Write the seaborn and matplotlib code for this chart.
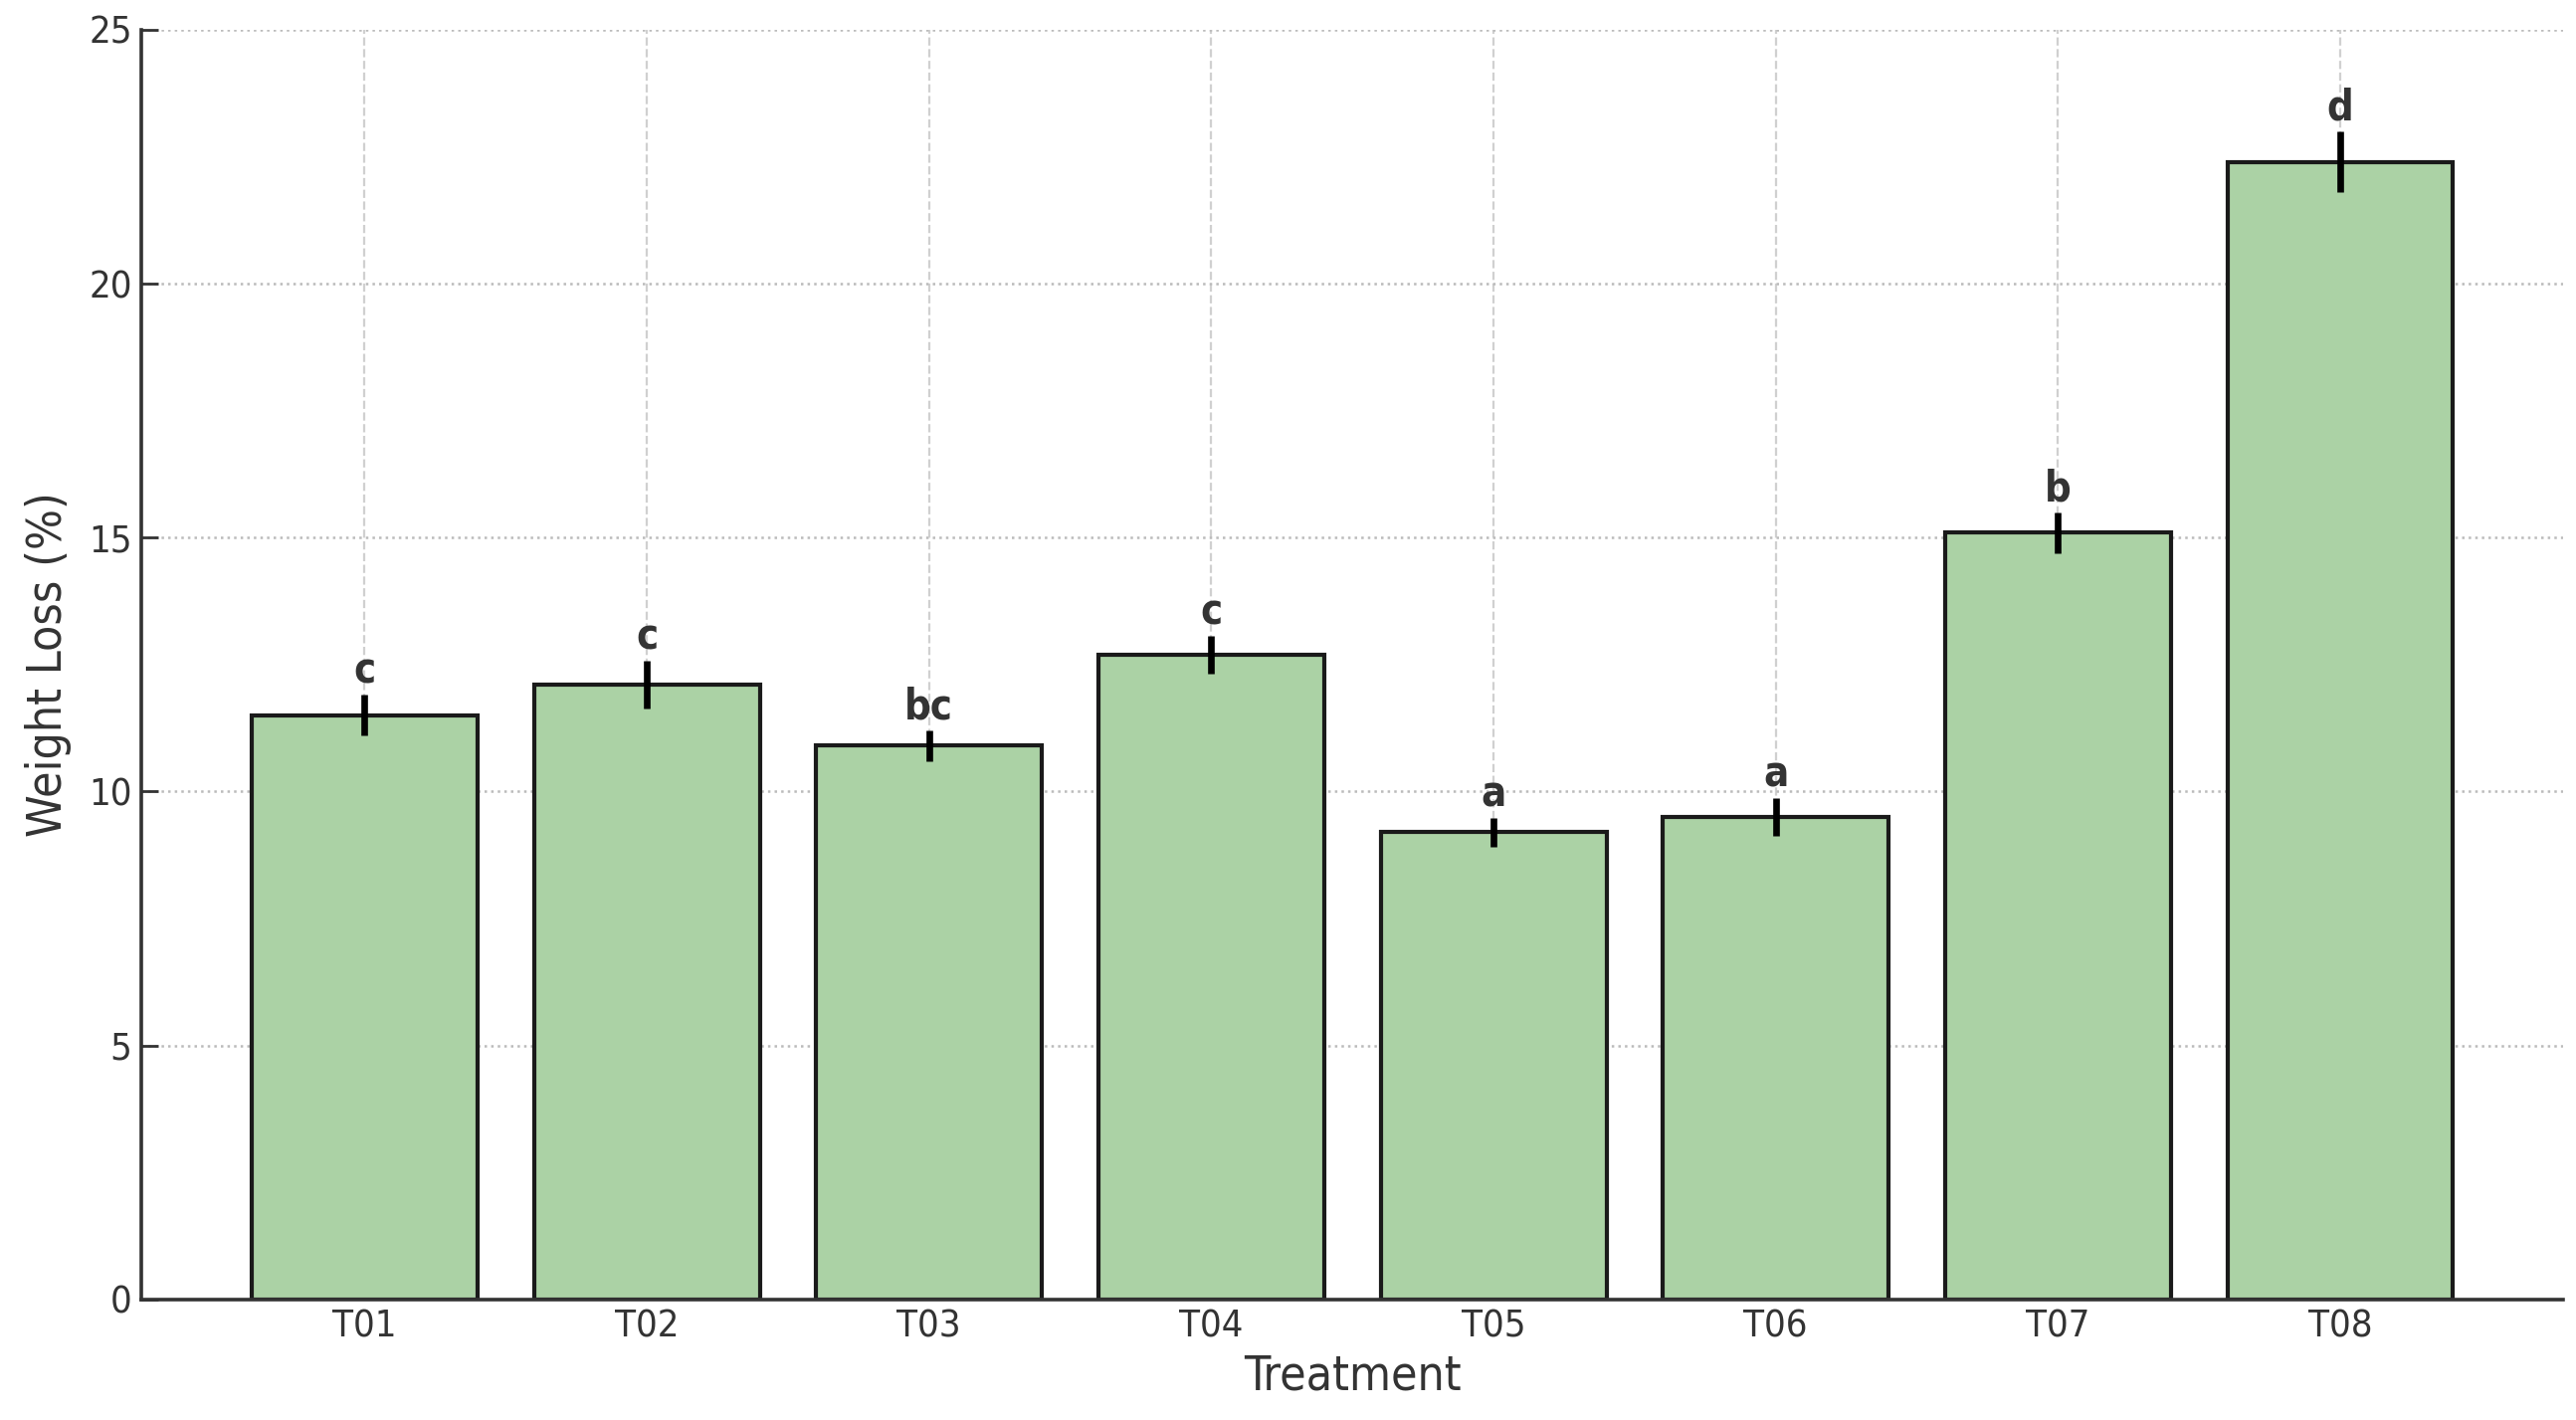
import matplotlib
matplotlib.use("Agg")
import matplotlib.pyplot as plt
import seaborn as sns
import pandas as pd

# values
treatments = ["T01", "T02", "T03", "T04", "T05", "T06", "T07", "T08"]
weight_loss = [11.5, 12.1, 10.9, 12.7, 9.2, 9.5, 15.1, 22.4]
std_err = [0.4, 0.47, 0.3, 0.37, 0.28, 0.37, 0.4, 0.6]
letters = ["c", "c", "bc", "c", "a", "a", "b", "d"]

sns.set_theme(style="white")
plt.rcParams['font.family'] = ['DejaVu Sans']
plt.rcParams['font.stretch'] = 'condensed'

df = pd.DataFrame({"Treatment": treatments, "Weight Loss (%)": weight_loss})

fig = plt.figure(figsize=(12.945, 7.135), dpi=200)
ax = fig.add_axes([0.055, 0.085, 0.94, 0.894])

sns.barplot(data=df, x="Treatment", y="Weight Loss (%)", color="#abd2a5",
            saturation=1, width=0.8, edgecolor="#1a1a1a", linewidth=1.5,
            errorbar=None, ax=ax, zorder=2)

xs = ax.get_xticks()
ax.errorbar(xs, weight_loss, yerr=std_err, fmt="none", ecolor="black",
            elinewidth=2.4, capsize=0, zorder=3)

for x, m, e, lab in zip(xs, weight_loss, std_err, letters):
    ax.text(x, m + e + 0.05, lab, ha="center", va="bottom",
            fontsize=15, fontweight="bold", color="#333333")

ax.set_xlim(-0.79, 7.79)
ax.set_ylim(0, 25)
ax.set_yticks([0, 5, 10, 15, 20, 25])

ax.xaxis.grid(True, linestyle="--", color="#d0d0d0", linewidth=0.8)
ax.yaxis.grid(True, linestyle=":", color="#bbbbbb", linewidth=0.9)
ax.set_axisbelow(True)

sns.despine(ax=ax)
for side in ["left", "bottom"]:
    ax.spines[side].set_color("#333333")
    ax.spines[side].set_linewidth(1.3)

ax.tick_params(axis="both", direction="in", length=6, width=1,
               colors="#333333", labelsize=13.7, left=True, bottom=True)
ax.set_xlabel("Treatment", fontsize=17.3, color="#333333", labelpad=3)
ax.set_ylabel("Weight Loss (%)", fontsize=17.3, color="#333333", labelpad=6)

fig.savefig("out.png", dpi=200)
